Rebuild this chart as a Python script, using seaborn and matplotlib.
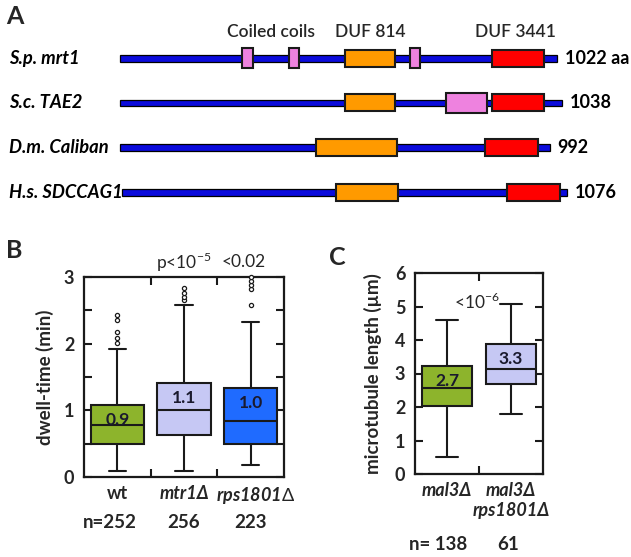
import numpy as np
import pandas as pd
import matplotlib
matplotlib.use("Agg")
import matplotlib.pyplot as plt
import matplotlib.transforms as mtransforms
import seaborn as sns

# ---------------- Panel A data (domain map, drawing units ~ residues) ----------------
proteins = ["S.p. mrt1", "S.c. TAE2", "D.m. Caliban", "H.s. SDCCAG1"]
length_labels = ["1022 aa", "1038", "992", "1076"]
line_start = [0, 0, 1, 6]
line_end = [1022, 1033, 1005, 1045]
orange_start = [527, 527, 459, 506]
orange_end = [643, 643, 648, 650]
red_start = [870, 870, 853, 905]
red_end = [991, 991, 977, 1029]
pink_row = [0, 0, 0, 1]
pink_start = [286, 396, 678, 762]
pink_end = [312, 419, 702, 858]
domain_headers = ["Coiled coils", "DUF 814", "DUF 3441"]

# ---------------- Panel B data ----------------
b_groups = ["wt", "mtr1\u0394", "rps1801\u0394"]
b_ticklabels = ["wt", "mtr1\u0394", "rps1801$\\Delta$"]
b_whislo = [0.085, 0.085, 0.175]
b_q1 = [0.50, 0.635, 0.50]
b_med = [0.785, 1.00, 0.835]
b_q3 = [1.085, 1.415, 1.33]
b_whishi = [1.915, 2.585, 2.33]
b_out_wt = [2.005, 2.09, 2.175, 2.35, 2.435]
b_out_mtr1 = [2.65, 2.695, 2.765, 2.84]
b_out_rps = [2.585, 2.82, 2.875, 2.94, 3.0]
b_means = ["0.9", "1.1", "1.0"]
b_n = ["n=252", "256", "223"]
b_pvals = ["p<10$^{-5}$", "<0.02"]

# ---------------- Panel C data ----------------
c_groups = ["mal3\u0394", "mal3\u0394\nrps1801\u0394"]
c_whislo = [0.50, 1.80]
c_q1 = [2.02, 2.70]
c_med = [2.58, 3.12]
c_q3 = [3.23, 3.87]
c_whishi = [4.60, 5.07]
c_means = ["2.7", "3.3"]
c_n = ["n= 138", "61"]
c_pval = "<10$^{-6}$"

GREEN = "#8DB42C"
LAV = "#C6C8F4"
BLUE = "#1F6BFF"
INK = "#1a1a1a"

sns.set_style("ticks")
plt.rcParams["font.family"] = ["Lato", "DejaVu Sans"]
plt.rcParams["mathtext.fontset"] = "custom"
plt.rcParams["mathtext.rm"] = "Lato"

W, H = 631, 557
fig = plt.figure(figsize=(W / 100, H / 100), dpi=100)

# ================= Panel A =================
axA = fig.add_axes([0, (H - 215) / H, 1, 215 / H])
axA.set_xlim(-279, 1194)
axA.set_ylim(3.508, -1.305)
axA.axis("off")
rows = np.arange(len(proteins))
axA.barh(rows, np.array(line_end) - np.array(line_start), left=line_start, height=0.15,
         color="#0b0bdc", edgecolor="black", linewidth=0.9, zorder=1)
axA.barh(rows, np.array(orange_end) - np.array(orange_start), left=orange_start, height=0.38,
         color="#FF9A00", edgecolor=INK, linewidth=1.5, zorder=2)
axA.barh(rows, np.array(red_end) - np.array(red_start), left=red_start, height=0.38,
         color="#FF0000", edgecolor=INK, linewidth=1.5, zorder=2)
axA.barh(pink_row, np.array(pink_end) - np.array(pink_start), left=pink_start, height=0.45,
         color="#EE82DF", edgecolor=INK, linewidth=1.5, zorder=2)
for i, (name, lab) in enumerate(zip(proteins, length_labels)):
    axA.text(-258, i, name, ha="left", va="center", fontsize=13.2, fontweight="bold",
             fontstyle="italic", color="black")
    axA.text(line_end[i] + 17, i, lab, ha="left", va="center", fontsize=13,
             fontweight="bold", color="black")
hdr_x = [(pink_start[0] + pink_end[1]) / 2, (orange_start[0] + orange_end[0]) / 2,
         (red_start[0] + red_end[0]) / 2 - 6]
for t, x in zip(domain_headers, hdr_x):
    axA.text(x, -0.59, t, ha="center", va="center", fontsize=12.5, fontweight="semibold")
fig.text(6 / W, 1 - 5 / H, "A", ha="left", va="top", fontsize=18, fontweight="bold")


def box_frame(groups, lo, q1, med, q3, hi):
    recs = []
    for g, a, b, c, d, e in zip(groups, lo, q1, med, q3, hi):
        for v in (a, b, c, d, e):
            recs.append({"group": g, "value": v})
    return pd.DataFrame(recs)


def style_axes(ax, ylim, ymajor, yminor, ncat):
    ax.set_xlim(-0.5, ncat - 0.5)
    ax.set_ylim(*ylim)
    for s in ax.spines.values():
        s.set_visible(True)
        s.set_linewidth(1.6)
        s.set_color(INK)
    ax.set_yticks(ymajor)
    ax.set_yticks(yminor, minor=True)
    ax.tick_params(axis="y", which="both", direction="in", length=6, width=1.5,
                   left=True, right=True, labelsize=13, pad=7, color=INK)
    ax.xaxis.set_minor_locator(matplotlib.ticker.FixedLocator(np.arange(ncat - 1) + 0.5))
    ax.tick_params(axis="x", which="minor", direction="in", length=6, width=1.5,
                   top=True, bottom=True, color=INK)
    ax.tick_params(axis="x", which="major", length=0, labelsize=13, pad=6)
    for lbl in ax.get_yticklabels():
        lbl.set_fontweight("bold")
    ax.set_xlabel("")
    ax.set_ylabel("")


# ================= Panel B =================
axB = fig.add_axes([84 / W, (H - 477) / H, 200 / W, 200 / H])
dfB = box_frame(b_groups, b_whislo, b_q1, b_med, b_q3, b_whishi)
sns.boxplot(data=dfB, x="group", y="value", hue="group", order=b_groups, hue_order=b_groups,
            palette=[GREEN, LAV, BLUE], saturation=1, width=0.8, whis=(0, 100),
            showfliers=False, linewidth=1.5, linecolor=INK, capwidths=0.26,
            legend=False, ax=axB)
outB = pd.DataFrame({"group": [b_groups[0]] * len(b_out_wt) + [b_groups[1]] * len(b_out_mtr1)
                     + [b_groups[2]] * len(b_out_rps),
                     "value": b_out_wt + b_out_mtr1 + b_out_rps})
sns.stripplot(data=outB, x="group", y="value", order=b_groups, jitter=False, marker="o",
              size=3.0, color="white", edgecolor=INK, linewidth=0.9, zorder=4,
              clip_on=False, ax=axB)
style_axes(axB, (0, 3), [0, 1, 2, 3], [0.5, 1.5, 2.5], 3)
axB.set_xticks([0, 1, 2], b_ticklabels)
for lbl, st in zip(axB.get_xticklabels(), ["normal", "italic", "italic"]):
    lbl.set_fontweight("bold")
    lbl.set_fontstyle(st)
# nudge the last category label slightly right, as in the original
lastlbl = axB.get_xticklabels()[2]
lastlbl.set_transform(lastlbl.get_transform() +
                      mtransforms.ScaledTranslation(5 / 100, 0, fig.dpi_scale_trans))
for i, m in enumerate(b_means):
    axB.annotate(m, (i, b_q3[i]), xytext=(0, -5), textcoords="offset points", ha="center",
                 va="top", fontsize=12.5, fontweight="bold", color="#1a1a2e")
trB = mtransforms.blended_transform_factory(axB.transData, axB.transAxes)
for x, t in zip([-0.11, 1.0, 2.0], b_n):
    axB.text(x, -0.23, t, transform=trB, ha="center", va="center", fontsize=13.5, fontweight="bold")
axB.text(-0.195, 0.5, "dwell-time (min)", transform=axB.transAxes, rotation=90, ha="center",
         va="center", fontsize=13.5, fontweight="bold")
axB.text(1.0, 1.075, b_pvals[0], transform=trB, ha="center", va="center", fontsize=12.5)
axB.text(1.9, 1.075, b_pvals[1], transform=trB, ha="center", va="center", fontsize=12.5)
fig.text(6 / W, 1 - 239 / H, "B", ha="left", va="top", fontsize=18, fontweight="bold")

# ================= Panel C =================
axC = fig.add_axes([415 / W, (H - 474) / H, 128 / W, 201 / H])
dfC = box_frame(c_groups, c_whislo, c_q1, c_med, c_q3, c_whishi)
sns.boxplot(data=dfC, x="group", y="value", hue="group", order=c_groups, hue_order=c_groups,
            palette=[GREEN, LAV], saturation=1, width=0.78, whis=(0, 100),
            showfliers=False, linewidth=1.5, linecolor=INK, capwidths=0.33,
            legend=False, ax=axC)
style_axes(axC, (0, 6), [0, 1, 2, 3, 4, 5, 6], [], 2)
axC.set_xticks([0, 1], c_groups)
for lbl in axC.get_xticklabels():
    lbl.set_fontweight("bold")
    lbl.set_fontstyle("italic")
    lbl.set_linespacing(1.2)
for i, m in enumerate(c_means):
    axC.annotate(m, (i, c_q3[i]), xytext=(0, -5), textcoords="offset points", ha="center",
                 va="top", fontsize=12.5, fontweight="bold", color="#1a1a2e")
trC = mtransforms.blended_transform_factory(axC.transData, axC.transAxes)
for x, t in zip([-0.14, 0.953], c_n):
    axC.text(x, -0.353, t, transform=trC, ha="center", va="center", fontsize=13.5, fontweight="bold")
axC.text(-0.328, 0.5, "microtubule length (\u00b5m)", transform=axC.transAxes, rotation=90,
         ha="center", va="center", fontsize=13.5, fontweight="bold")
axC.text(0.47, 5.14, c_pval, ha="center", va="center", fontsize=12.5)
fig.text(329 / W, 1 - 246 / H, "C", ha="left", va="top", fontsize=18, fontweight="bold")

fig.savefig("out.png", dpi=100)
